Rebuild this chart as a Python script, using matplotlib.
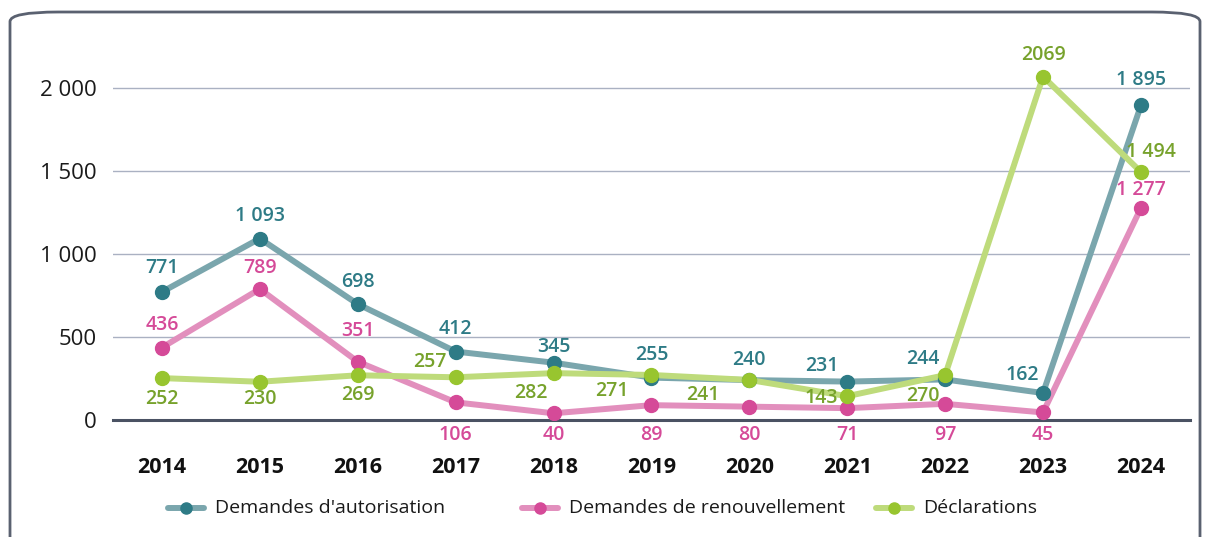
import matplotlib.pyplot as plt
from matplotlib.patches import FancyBboxPatch
from matplotlib.lines import Line2D

plt.rcParams['font.family'] = ['Open Sans', 'Noto Sans', 'DejaVu Sans']

# data
years = ['2014', '2015', '2016', '2017', '2018', '2019', '2020', '2021', '2022', '2023', '2024']
autorisation = [771, 1093, 698, 412, 345, 255, 240, 231, 244, 162, 1895]
renouvellement = [436, 789, 351, 106, 40, 89, 80, 71, 97, 45, 1277]
declarations = [252, 230, 269, 257, 282, 271, 241, 143, 270, 2069, 1494]
names = ["Demandes d'autorisation", "Demandes de renouvellement", "Déclarations"]

# colours: (line, marker, label text)
teal = ('#7aa6ad', '#2e7b86', '#2e7b86')
pink = ('#e28fbd', '#d54a98', '#d54a98')
green = ('#bedb7b', '#98c52f', '#77a22c')

# label offsets in pixels (dx, dy), positive dy = up
off_teal = [(0, 24), (0, 23), (0, 22), (0, 23), (0, 16), (0, 23), (0, 20), (-25, 16), (-22, 20), (-21, 18), (0, 25)]
off_pink = [(0, 23), (0, 21), (0, 31), None, None, None, None, None, None, None, (0, 18)]
off_green = [(0, -21), (0, -17), (0, -20), (-26, 15), (-23, -20), (-40, -16), (-46, -15), (-26, -2), (-22, -21), (0, 22), (10, 20)]


def fmt(v):
    if v >= 1000 and v != 2069:
        return '{:,}'.format(v).replace(',', ' ')
    return str(v)


W, H = 1208, 537
fig = plt.figure(figsize=(W / 100, H / 100), dpi=100)
ax = fig.add_axes([0.0935, 0.218, 0.8915, 0.68])

x = list(range(len(years)))
for vals, col in [(autorisation, teal), (renouvellement, pink), (declarations, green)]:
    ax.plot(x, vals, color=col[0], lw=4.3, solid_capstyle='round', zorder=3)
    ax.plot(x, vals, 'o', color=col[1], ms=10, zorder=4)

for vals, col, offs in [(autorisation, teal, off_teal), (renouvellement, pink, off_pink), (declarations, green, off_green)]:
    for i, v in enumerate(vals):
        o = offs[i]
        if o is None:
            # below the axis
            ax.annotate(fmt(v), (i, 0), xytext=(0, -15), textcoords='offset pixels',
                        ha='center', va='center', color=col[2], fontsize=14,
                        fontweight='semibold', annotation_clip=False)
        else:
            ax.annotate(fmt(v), (i, v), xytext=o, textcoords='offset pixels',
                        ha='center', va='center', color=col[2], fontsize=14,
                        fontweight='semibold', annotation_clip=False, zorder=5)

ax.set_xlim(-0.5, 10.5)
ax.set_ylim(0, 2200)
ax.set_yticks([0, 500, 1000, 1500, 2000])
ax.set_yticklabels(['0', '500', '1 000', '1 500', '2 000'])
ax.set_xticks(x)
ax.set_xticklabels(years, fontweight='bold')
ax.tick_params(axis='y', length=0, pad=12, labelsize=16, labelcolor='#1a1a1a')
ax.tick_params(axis='x', length=0, pad=27, labelsize=15.5, labelcolor='#111111')
for s in ['top', 'right', 'left']:
    ax.spines[s].set_visible(False)
ax.spines['bottom'].set_color('#4a5263')
ax.spines['bottom'].set_linewidth(2.2)
ax.spines['bottom'].set_zorder(2)
ax.grid(axis='y', color='#aab1c2', lw=1)
ax.set_axisbelow(True)

# legend drawn by hand (uneven spacing in the original)
leg_x = [168, 522, 876]
ly = 1 - 508 / H
for lx, c, nm in zip(leg_x, (teal, pink, green), names):
    fig.add_artist(Line2D([lx / W, (lx + 36) / W], [ly, ly], color=c[0], lw=4.3,
                          solid_capstyle='round', transform=fig.transFigure))
    fig.add_artist(Line2D([(lx + 18) / W], [ly], marker='o', color=c[1], ms=8,
                          transform=fig.transFigure))
    fig.text((lx + 47) / W, ly, nm, fontsize=14, va='center', ha='left', color='#1a1a1a')

box = FancyBboxPatch((10 / W, -0.2), 1190 / W, 1.2 - 12 / H,
                     boxstyle='round,pad=0,rounding_size=0.04', transform=fig.transFigure,
                     fill=False, ec='#5a6170', lw=2, mutation_aspect=H / W)
fig.patches.append(box)

plt.savefig('out.png', dpi=100)
